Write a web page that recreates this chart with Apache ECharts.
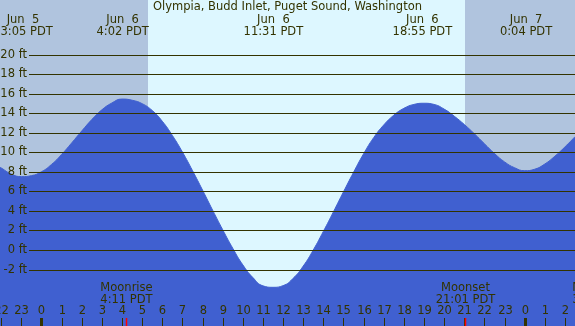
<!DOCTYPE html>
<html>
<head>
<meta charset="utf-8">
<script src="https://cdn.jsdelivr.net/npm/echarts@6/dist/echarts.min.js"></script>
<style>
  html, body { margin: 0; padding: 0; background: #b0c4de; }
  #chart { width: 575px; height: 326px; }
</style>
</head>
<body>
<div id="chart"></div>
<script>
// ---- Data (hours relative to Jun 6 00:00 PDT) ----
const chartTitle = 'Olympia, Budd Inlet, Puget Sound, Washington';

const tideHours = [-2.1, -2, -1.5, -1, -0.5, 0, 0.5, 1, 1.5, 2, 2.5, 3, 3.5, 4, 4.5, 5,
  5.5, 6, 6.5, 7, 7.5, 8, 8.5, 9, 9.5, 10, 10.5, 11, 11.5, 12, 12.5, 13, 13.5, 14,
  14.5, 15, 15.5, 16, 16.5, 17, 17.5, 18, 18.5, 19, 19.5, 20, 20.5, 21, 21.5, 22,
  22.5, 23, 23.5, 24, 24.5, 25, 25.5, 26, 26.5];
const tideFeet = [8.55, 8.45, 7.82, 7.56, 7.66, 8.06, 8.81, 9.83, 11.01, 12.23, 13.4, 14.4, 15.1, 15.5, 15.38, 15.03,
  14.33, 13.23, 11.78, 10.08, 8.18, 6.18, 4.13, 2.13, 0.23, -1.47, -2.77, -3.62, -3.77, -3.6, -2.85, -1.6, 0.05, 1.95,
  3.95, 6.0, 8.0, 9.9, 11.55, 12.85, 13.85, 14.55, 14.95, 15.07, 14.95, 14.47, 13.75, 12.9, 11.95, 10.93,
  9.93, 9.07, 8.47, 8.17, 8.32, 8.85, 9.65, 10.6, 11.65];

const tideEventHours = [-0.92, 4.03, 11.52, 18.92, 24.07];
const tideEventDates = ['Jun  5', 'Jun  6', 'Jun  6', 'Jun  6', 'Jun  7'];
const tideEventTimes = ['23:05 PDT', '4:02 PDT', '11:31 PDT', '18:55 PDT', '0:04 PDT'];

const daylight = [[5.29, 21.04]];   // sunrise, sunset

const moonEventHours = [4.18, 21.02, 27.65];
const moonEventNames = ['Moonrise', 'Moonset', 'Moonrise'];
const moonEventTimes = ['4:11 PDT', '21:01 PDT', '3:39 PDT'];

const hourTicks = [-2, -1, 0, 1, 2, 3, 4, 5, 6, 7, 8, 9, 10, 11, 12, 13, 14, 15, 16, 17,
  18, 19, 20, 21, 22, 23, 24, 25, 26];
const depthTicks = [-2, 0, 2, 4, 6, 8, 10, 12, 14, 16, 18, 20];

// ---- Styles ----
const NIGHT = '#b0c4de';
const DAY = '#ddf7ff';
const WATER = '#4060d0';
const INK = '#333300';
const FONT_FAMILY = 'DejaVu Sans';
const FONT_SIZE = 11.5;

const chart = echarts.init(document.getElementById('chart'), null, { renderer: 'canvas' });

function textEl(x, y, text, align, vAlign, lineHeight) {
  return {
    type: 'text', x: x, y: y, silent: true,
    style: {
      text: text, fill: INK, fontFamily: FONT_FAMILY, fontSize: FONT_SIZE,
      align: align, verticalAlign: vAlign, lineHeight: lineHeight || 12.5
    }
  };
}

const option = {
  animation: false,
  backgroundColor: NIGHT,
  title: {
    text: chartTitle, left: 'center', top: 1, padding: 0,
    textStyle: { color: INK, fontFamily: FONT_FAMILY, fontSize: FONT_SIZE, fontWeight: 'normal', lineHeight: 13 }
  },
  grid: { left: 0, right: 0, top: 0, bottom: 0 },
  xAxis: { type: 'value', min: -2.06, max: 26.5, show: false },
  yAxis: { type: 'value', min: -7.73, max: 25.64, show: false },
  series: [
    { // daylight background
      type: 'custom', z: 1, silent: true,
      data: daylight,
      renderItem: function (params, api) {
        const cs = params.coordSys;
        const x0 = api.coord([api.value(0), 0])[0];
        const x1 = api.coord([api.value(1), 0])[0];
        return { type: 'rect', shape: { x: Math.round(x0), y: cs.y, width: Math.round(x1) - Math.round(x0), height: cs.height },
          style: { fill: DAY } };
      }
    },
    { // tide water
      type: 'line', z: 2, silent: true,
      data: tideHours.map((h, i) => [h, tideFeet[i]]),
      smooth: true, showSymbol: false,
      lineStyle: { color: WATER, width: 1 },
      areaStyle: { color: WATER, opacity: 1, origin: 'start' }
    },
    { // depth lines and labels
      type: 'custom', z: 3, silent: true,
      data: depthTicks.map(v => [0, v]),
      renderItem: function (params, api) {
        const cs = params.coordSys;
        const v = api.value(1);
        const y = Math.floor(api.coord([0, v])[1]) + 0.5;
        return { type: 'group', children: [
          { type: 'line', shape: { x1: 29, y1: y, x2: cs.x + cs.width, y2: y }, style: { stroke: INK, lineWidth: 1 } },
          textEl(27, y, v + ' ft', 'right', 'middle')
        ] };
      }
    },
    { // hour ticks and labels
      type: 'custom', z: 4, silent: true,
      data: hourTicks.map(h => [h, 0]),
      renderItem: function (params, api) {
        const h = api.value(0);
        const x = Math.round(api.coord([h, 0])[0]) + 0.5;
        const hh = ((h % 24) + 24) % 24;
        return { type: 'group', children: [
          { type: 'line', shape: { x1: x, y1: 318, x2: x, y2: 326 }, style: { stroke: INK, lineWidth: hh === 0 ? 3 : 1 } },
          textEl(x, 311.5, String(hh), 'center', 'middle')
        ] };
      }
    },
    { // moon events
      type: 'custom', z: 5, silent: true,
      data: moonEventHours.map((h, i) => [h, 0, i]),
      renderItem: function (params, api) {
        const h = api.value(0);
        const i = api.value(2);
        const x = Math.round(api.coord([h, 0])[0]) + 0.5;
        return { type: 'group', children: [
          { type: 'line', shape: { x1: x, y1: 318, x2: x, y2: 326 }, style: { stroke: '#ff0000', lineWidth: 1.5 } },
          textEl(x, 282.5, moonEventNames[i] + '\n' + moonEventTimes[i], 'center', 'top', 11.5)
        ] };
      }
    },
    { // tide event labels
      type: 'custom', z: 5, silent: true,
      data: tideEventHours.map((h, i) => [h, 0, i]),
      renderItem: function (params, api) {
        const h = api.value(0);
        const i = api.value(2);
        const x = api.coord([h, 0])[0];
        return textEl(x, 13.5, tideEventDates[i] + '\n' + tideEventTimes[i], 'center', 'top', 12.5);
      }
    }
  ]
};
chart.setOption(option);
</script>
</body>
</html>
